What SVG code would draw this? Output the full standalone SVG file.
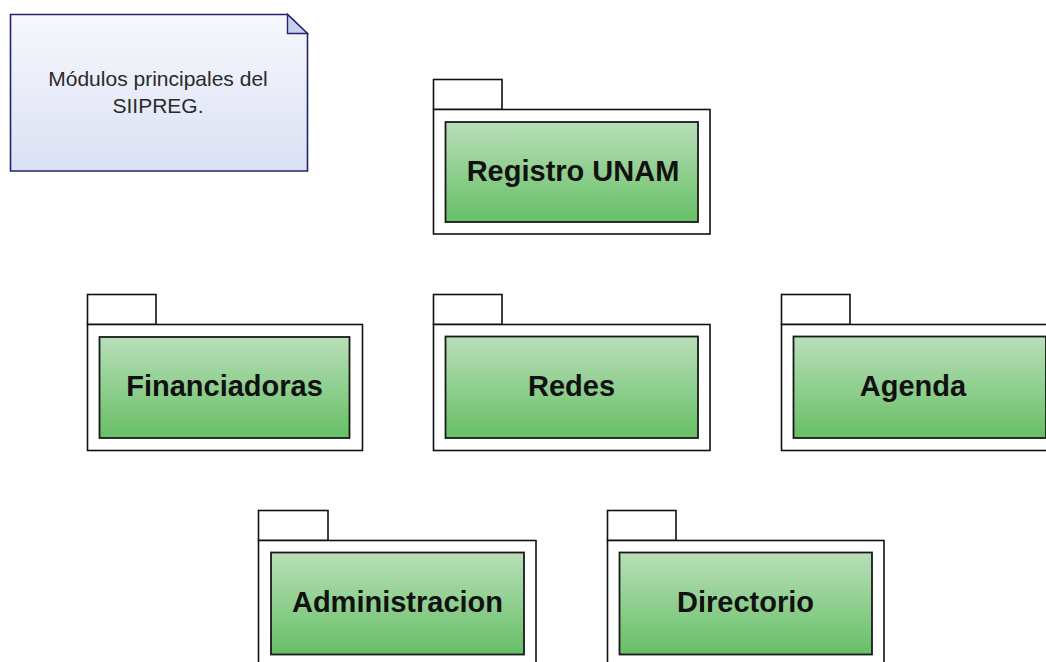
<svg xmlns="http://www.w3.org/2000/svg" width="1046" height="662" viewBox="0 0 1046 662">
<defs>
<linearGradient id="gGreen" x1="0" y1="0" x2="0" y2="1">
<stop offset="0" stop-color="#b9dfb9"/>
<stop offset="1" stop-color="#66bf66"/>
</linearGradient>
<linearGradient id="gNote" x1="0" y1="0" x2="0" y2="1">
<stop offset="0" stop-color="#f7f8fd"/>
<stop offset="1" stop-color="#dbe1f3"/>
</linearGradient>
</defs>
<style>
.pkg{fill:#ffffff;stroke:#111;stroke-width:1.6}
.inner{fill:url(#gGreen);stroke:#1a1a1a;stroke-width:1.8}
.lbl{font-family:"Liberation Sans",Arial,sans-serif;font-weight:bold;font-size:29px;fill:#111;text-anchor:middle}
.note{fill:url(#gNote);stroke:#23236e;stroke-width:1.6}
.fold{fill:#c9d1ef;stroke:#23236e;stroke-width:1.4}
.ntxt{font-family:"Liberation Sans",Arial,sans-serif;font-size:21px;fill:#2a2a2a;text-anchor:middle}
</style>
<rect width="1046" height="662" fill="#ffffff"/>
<g id="note">
<path class="note" d="M10.5,14.5 H287.5 L307.5,33.5 V171 H10.5 Z"/>
<path class="fold" d="M287.5,14.5 V33.5 H307.5 Z"/>
<text class="ntxt" x="158" y="86">Módulos principales del</text>
<text class="ntxt" x="158" y="113">SIIPREG.</text>
</g>
<g id="registro-unam">
<rect class="pkg" x="433.5" y="79.5" width="68.5" height="30"/>
<rect class="pkg" x="433.5" y="109.5" width="276.5" height="124.5"/>
<rect class="inner" x="445.5" y="122" width="252.5" height="100"/>
<text class="lbl" x="573" y="181">Registro UNAM</text>
</g>
<g id="financiadoras">
<rect class="pkg" x="87.5" y="294.5" width="68.5" height="30"/>
<rect class="pkg" x="87.5" y="324.5" width="275" height="126"/>
<rect class="inner" x="99.5" y="337" width="250" height="101"/>
<text class="lbl" x="224.5" y="396">Financiadoras</text>
</g>
<g id="redes">
<rect class="pkg" x="433.5" y="294.5" width="68.5" height="30"/>
<rect class="pkg" x="433.5" y="324.5" width="276.5" height="126"/>
<rect class="inner" x="445.5" y="336.5" width="252.5" height="101.5"/>
<text class="lbl" x="571.5" y="396">Redes</text>
</g>
<g id="agenda">
<rect class="pkg" x="781.5" y="294.5" width="68.5" height="30"/>
<rect class="pkg" x="781.5" y="324.5" width="276.5" height="126"/>
<rect class="inner" x="793.5" y="336.5" width="252.5" height="101.5"/>
<text class="lbl" x="913" y="396">Agenda</text>
</g>
<g id="administracion">
<rect class="pkg" x="258.5" y="510.5" width="69.5" height="30"/>
<rect class="pkg" x="258.5" y="540.5" width="277.5" height="126"/>
<rect class="inner" x="271" y="552.5" width="253" height="102"/>
<text class="lbl" x="397.5" y="612">Administracion</text>
</g>
<g id="directorio">
<rect class="pkg" x="607.5" y="510.5" width="68.5" height="30"/>
<rect class="pkg" x="607.5" y="540.5" width="276.5" height="126"/>
<rect class="inner" x="619.5" y="552.5" width="252.5" height="102"/>
<text class="lbl" x="745.5" y="612">Directorio</text>
</g>
<g id="connectors"/>
</svg>
